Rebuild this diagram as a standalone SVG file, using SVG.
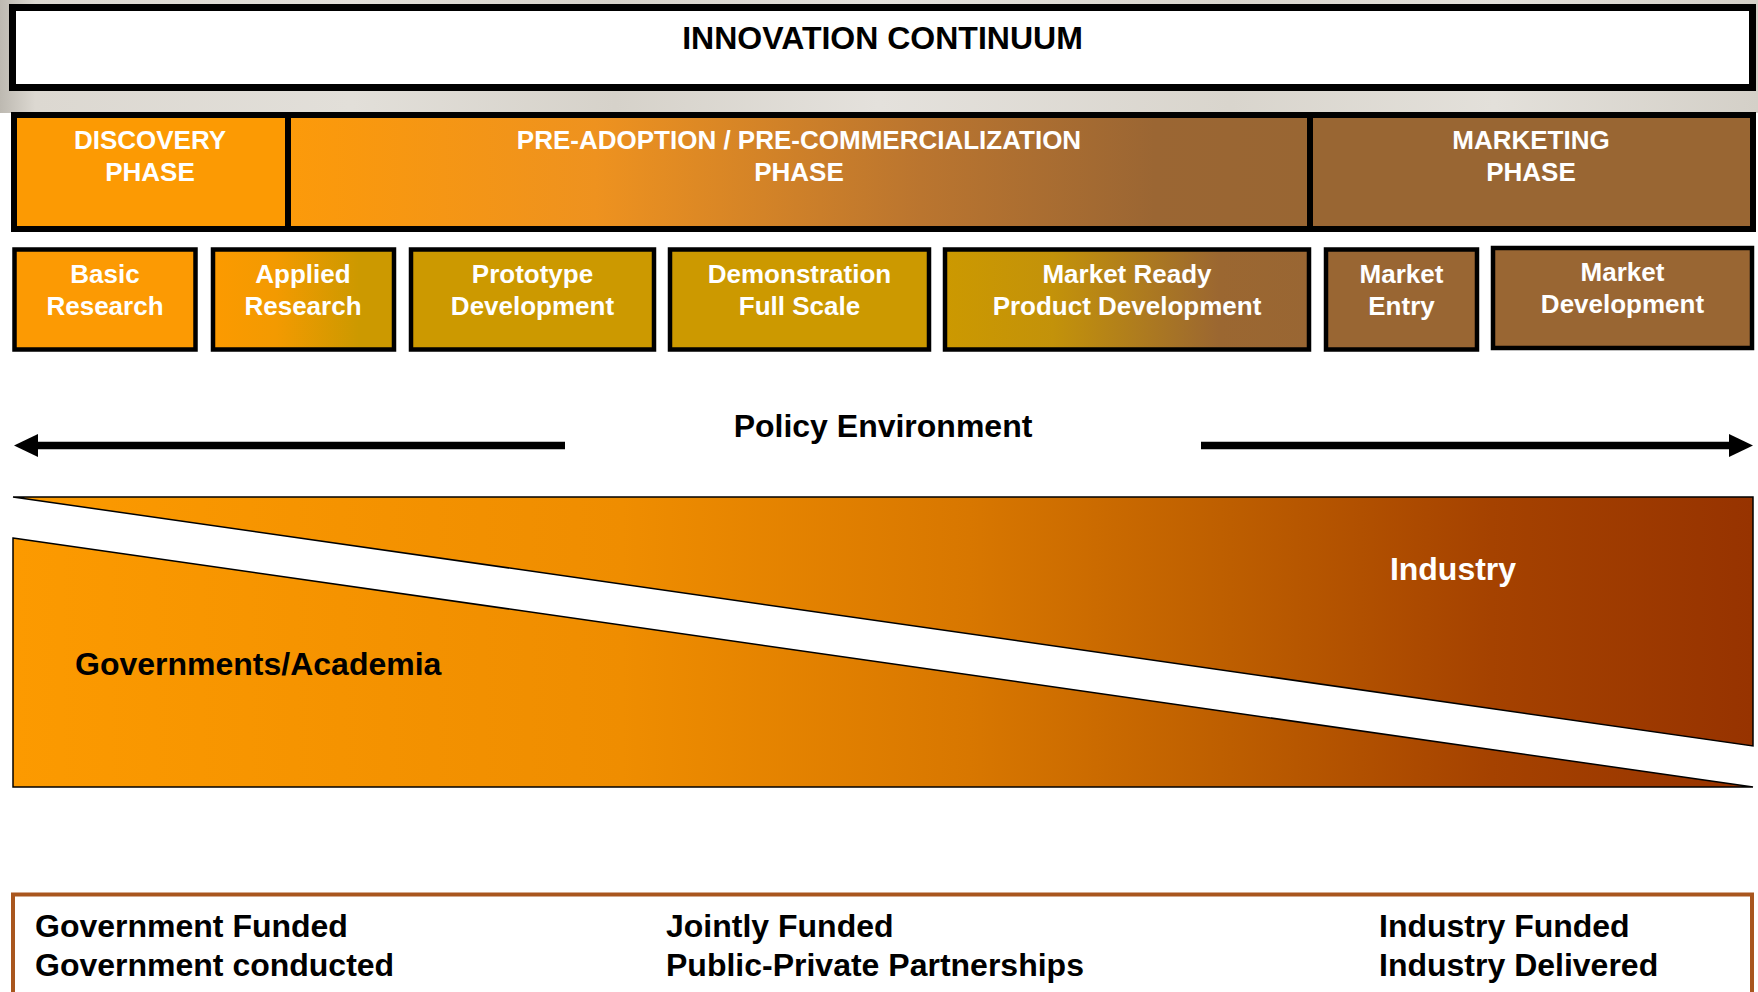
<svg xmlns="http://www.w3.org/2000/svg" width="1758" height="992" viewBox="0 0 1758 992">
<style>
text{font-family:"Liberation Sans",Arial,Helvetica,sans-serif;font-weight:bold}
.w{fill:#ffffff}
.k{fill:#000000}
.ph{font-size:26px;text-anchor:middle}
.st{font-size:26px;text-anchor:middle}
.big{font-size:32px}
.phase{stroke:#000;stroke-width:6}
.step{stroke:#000;stroke-width:4.5}
.wedge{stroke:#000;stroke-width:1.5;stroke-linejoin:miter}
.arrow{stroke:#000;stroke-width:7.5;fill:none}
</style>
<defs>
<linearGradient id="bgGrey" x1="0" y1="0" x2="1758" y2="0" gradientUnits="userSpaceOnUse">
<stop offset="0" stop-color="#bdb9b1"/>
<stop offset="0.02" stop-color="#dcd8d1"/>
<stop offset="0.2" stop-color="#e2dfd9"/>
<stop offset="0.35" stop-color="#d6d2ca"/>
<stop offset="0.5" stop-color="#e4e1dc"/>
<stop offset="0.7" stop-color="#d9d5cd"/>
<stop offset="0.85" stop-color="#e3e0da"/>
<stop offset="1" stop-color="#d4d0c8"/>
</linearGradient>
<linearGradient id="preGrad" x1="291" y1="0" x2="1307" y2="0" gradientUnits="userSpaceOnUse">
<stop offset="0" stop-color="#fc9a0a"/>
<stop offset="0.3" stop-color="#ee921f"/>
<stop offset="0.62" stop-color="#ba752f"/>
<stop offset="0.85" stop-color="#9b6633"/>
<stop offset="1" stop-color="#996633"/>
</linearGradient>
<linearGradient id="appliedGrad" x1="211" y1="0" x2="396" y2="0" gradientUnits="userSpaceOnUse">
<stop offset="0" stop-color="#fc9a00"/>
<stop offset="0.35" stop-color="#f39a01"/>
<stop offset="0.8" stop-color="#cc9900"/>
<stop offset="1" stop-color="#cc9900"/>
</linearGradient>
<linearGradient id="readyGrad" x1="943" y1="0" x2="1311" y2="0" gradientUnits="userSpaceOnUse">
<stop offset="0" stop-color="#cc9900"/>
<stop offset="0.3" stop-color="#c3920a"/>
<stop offset="0.75" stop-color="#9b6731"/>
<stop offset="1" stop-color="#996633"/>
</linearGradient>
<linearGradient id="wedgeGrad" x1="13" y1="0" x2="1753" y2="0" gradientUnits="userSpaceOnUse">
<stop offset="0" stop-color="#fc9a00"/>
<stop offset="0.35" stop-color="#ef8d00"/>
<stop offset="0.55" stop-color="#d87700"/>
<stop offset="0.7" stop-color="#bd5e00"/>
<stop offset="0.85" stop-color="#a54200"/>
<stop offset="1" stop-color="#973300"/>
</linearGradient>
<marker id="head" markerUnits="userSpaceOnUse" markerWidth="24" markerHeight="24" refX="0" refY="11.5" orient="auto">
<path d="M0,0 L24,11.5 L0,23 Z" fill="#000"/>
</marker>
</defs>

<rect x="0" y="0" width="1758" height="992" fill="#ffffff"/>
<rect x="0" y="0" width="1758" height="113" fill="url(#bgGrey)"/>

<g id="title">
<rect x="12.5" y="7.5" width="1740" height="80" fill="#ffffff" stroke="#000" stroke-width="7"/>
<text class="big k" x="882.5" y="49" text-anchor="middle">INNOVATION CONTINUUM</text>
</g>

<g id="phase-discovery">
<rect class="phase" x="14" y="115" width="274" height="114" fill="#fc9a03"/>
<text class="ph w" x="150" y="149">DISCOVERY</text>
<text class="ph w" x="150" y="181">PHASE</text>
</g>
<g id="phase-preadoption">
<rect class="phase" x="288" y="115" width="1022" height="114" fill="url(#preGrad)"/>
<text class="ph w" x="799" y="149">PRE-ADOPTION / PRE-COMMERCIALIZATION</text>
<text class="ph w" x="799" y="181">PHASE</text>
</g>
<g id="phase-marketing">
<rect class="phase" x="1310" y="115" width="443" height="114" fill="#996633"/>
<text class="ph w" x="1531" y="149">MARKETING</text>
<text class="ph w" x="1531" y="181">PHASE</text>
</g>

<g id="step-basic-research">
<rect class="step" x="14.5" y="249.5" width="181" height="100" fill="#fc9a03"/>
<text class="st w" x="105" y="283">Basic</text>
<text class="st w" x="105" y="315">Research</text>
</g>
<g id="step-applied-research">
<rect class="step" x="213" y="249.5" width="181" height="100" fill="url(#appliedGrad)"/>
<text class="st w" x="303" y="283">Applied</text>
<text class="st w" x="303" y="315">Research</text>
</g>
<g id="step-prototype">
<rect class="step" x="411" y="249.5" width="243" height="100" fill="#cc9900"/>
<text class="st w" x="532.5" y="283">Prototype</text>
<text class="st w" x="532.5" y="315">Development</text>
</g>
<g id="step-demonstration">
<rect class="step" x="670" y="249.5" width="259" height="100" fill="#cc9900"/>
<text class="st w" x="799.5" y="283">Demonstration</text>
<text class="st w" x="799.5" y="315">Full Scale</text>
</g>
<g id="step-market-ready">
<rect class="step" x="945" y="249.5" width="364" height="100" fill="url(#readyGrad)"/>
<text class="st w" x="1127" y="283">Market Ready</text>
<text class="st w" x="1127" y="315">Product Development</text>
</g>
<g id="step-market-entry">
<rect class="step" x="1326" y="249.5" width="151" height="100" fill="#996633"/>
<text class="st w" x="1401.5" y="283">Market</text>
<text class="st w" x="1401.5" y="315">Entry</text>
</g>
<g id="step-market-development">
<rect class="step" x="1493" y="248" width="259" height="100" fill="#996633"/>
<text class="st w" x="1622.5" y="281">Market</text>
<text class="st w" x="1622.5" y="313">Development</text>
</g>

<g id="policy-environment">
<text class="big k" x="883" y="437" text-anchor="middle">Policy Environment</text>
</g>

<g id="connectors">
<line class="arrow" x1="565" y1="445.5" x2="38" y2="445.5" marker-end="url(#head)"/>
<line class="arrow" x1="1201" y1="445.5" x2="1729" y2="445.5" marker-end="url(#head)"/>
</g>

<g id="industry">
<polygon class="wedge" points="13,497 1753,497 1753,746" fill="url(#wedgeGrad)"/>
<text class="big w" x="1453" y="580" text-anchor="middle">Industry</text>
</g>
<g id="governments-academia">
<polygon class="wedge" points="13,538 1753,787 13,787" fill="url(#wedgeGrad)"/>
<text class="big k" x="75" y="675">Governments/Academia</text>
</g>

<g id="funding">
<rect x="13" y="894.5" width="1739" height="130" fill="#ffffff" stroke="#a9561e" stroke-width="4"/>
<text class="big k" x="35" y="937">Government Funded</text>
<text class="big k" x="35" y="976">Government conducted</text>
<text class="big k" x="666" y="937">Jointly Funded</text>
<text class="big k" x="666" y="976">Public-Private Partnerships</text>
<text class="big k" x="1379" y="937">Industry Funded</text>
<text class="big k" x="1379" y="976">Industry Delivered</text>
</g>
</svg>
